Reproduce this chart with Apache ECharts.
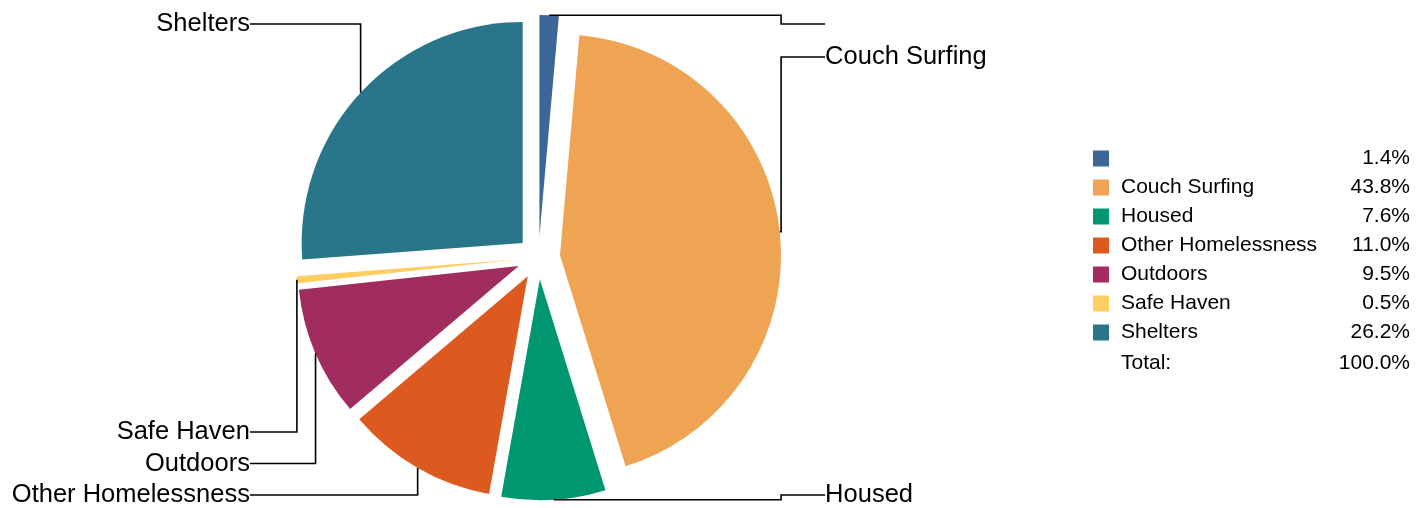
<!DOCTYPE html>
<html><head><meta charset="utf-8">
<script src="https://cdn.jsdelivr.net/npm/echarts@6/dist/echarts.min.js"></script>
<style>html,body{margin:0;padding:0;background:#fff}#c{width:1425px;height:508px}</style>
</head><body><div id="c"></div>
<script>
// ---- data ----
const categories = [' ', 'Couch Surfing', 'Housed', 'Other Homelessness', 'Outdoors', 'Safe Haven', 'Shelters'];
const shares = [1.4, 43.8, 7.6, 11.0, 9.5, 0.5, 26.2];
const colors = ['#3B6697', '#EFA454', '#00966F', '#DC5A20', '#A12C5F', '#FECE61', '#29768A'];
const totalLabel = 'Total:';

// ---- layout ----
const FONT = '"Liberation Sans", Arial, Helvetica, sans-serif';
const CX = 538.5, CY = 257.6, R = 221, OFF = 21.6;
const TOP_Y = 24, BOT_Y = 495, GAP_TOP = 33, GAP_BOT = 31.5, COL_R = 44, COL_L = 46;
const total = shares.reduce((a, b) => a + b, 0);

const geo = [];
let acc = 0;
shares.forEach((v, i) => {
  const mid = (acc + v / 2) / total * 2 * Math.PI;
  acc += v;
  const s = Math.sin(mid), c = Math.cos(mid);
  geo.push({ ax: CX + (R + OFF) * s, ay: CY - (R + OFF) * c });
});
const elbowR = CX + R + OFF, colR = elbowR + COL_R, colL = CX - R - OFF - COL_L;
const groups = { rt: [], rb: [], lt: [], lb: [] };
geo.forEach((g, i) => {
  g.right = g.ax > CX;
  const key = (g.right ? 'r' : 'l') + (g.ay < CY ? 't' : 'b');
  groups[key].push(i);
});
['rt', 'lt'].forEach(k => groups[k].sort((a, b) => geo[a].ay - geo[b].ay)
  .forEach((idx, n) => { geo[idx].ly = TOP_Y + n * GAP_TOP; }));
['rb', 'lb'].forEach(k => groups[k].sort((a, b) => geo[b].ay - geo[a].ay)
  .forEach((idx, n) => { geo[idx].ly = BOT_Y - n * GAP_BOT; }));

const pctOf = name => shares[categories.indexOf(name)].toFixed(1) + '%';
const rich = {
  n: { width: 189, fontSize: 21, fontFamily: FONT, fontWeight: 'normal', color: '#000', padding: [0, 0, 0, 7], lineHeight: 20 },
  v: { width: 100, align: 'right', fontSize: 21, fontFamily: FONT, fontWeight: 'normal', color: '#000', lineHeight: 20 }
};

const chart = echarts.init(document.getElementById('c'), null, { renderer: 'canvas' });
chart.setOption({
  animation: false,
  backgroundColor: '#fff',
  title: {
    text: `{n|${totalLabel}}{v|${total.toFixed(1)}%}`,
    left: 1114, top: 353, padding: 0,
    textStyle: { fontWeight: 'normal', rich }
  },
  legend: {
    orient: 'vertical', left: 1093, top: 148, padding: 0,
    itemWidth: 16, itemHeight: 16, itemGap: 8, icon: 'rect',
    selectedMode: false,
    data: categories,
    formatter: name => `{n|${name}}{v|${pctOf(name)}}`,
    textStyle: { fontFamily: FONT, fontSize: 21, lineHeight: 20, color: '#000', rich }
  },
  series: [{
    // exploded slices
    type: 'pie', z: 2,
    center: [CX, CY], radius: R,
    startAngle: 90, clockwise: true,
    selectedMode: 'multiple', selectedOffset: OFF,
    emphasis: { disabled: true },
    select: { itemStyle: { borderWidth: 0 } },
    data: categories.map((n, i) => ({ name: n, value: shares[i], selected: true, itemStyle: { color: colors[i] } })),
    label: { show: false },
    labelLine: { show: false }
  }, {
    // labels with elbow leader lines
    type: 'pie', z: 3, silent: true,
    center: [CX, CY], radius: R,
    startAngle: 90, clockwise: true,
    selectedMode: false,
    emphasis: { disabled: true },
    itemStyle: { color: 'rgba(0,0,0,0)' },
    data: categories.map((n, i) => ({ name: n, value: shares[i] })),
    label: { show: true, position: 'outside', formatter: '{b}', color: '#000', opacity: 1, fontSize: 25.5, fontFamily: FONT, padding: 0 },
    labelLine: { show: true, smooth: false, lineStyle: { color: '#000', width: 1.6, opacity: 1 } },
    labelLayout: function (p) {
      const g = geo[p.dataIndex];
      if (g.right) {
        return {
          x: colR, y: g.ly, align: 'left', verticalAlign: 'middle',
          labelLinePoints: [[g.ax, g.ay], [elbowR, g.ay], [elbowR, g.ly], [colR, g.ly]]
        };
      }
      return {
        x: colL, y: g.ly, align: 'right', verticalAlign: 'middle',
        labelLinePoints: [[g.ax, g.ay], [g.ax, g.ly], [colL, g.ly]]
      };
    }
  }]
});
</script></body></html>
